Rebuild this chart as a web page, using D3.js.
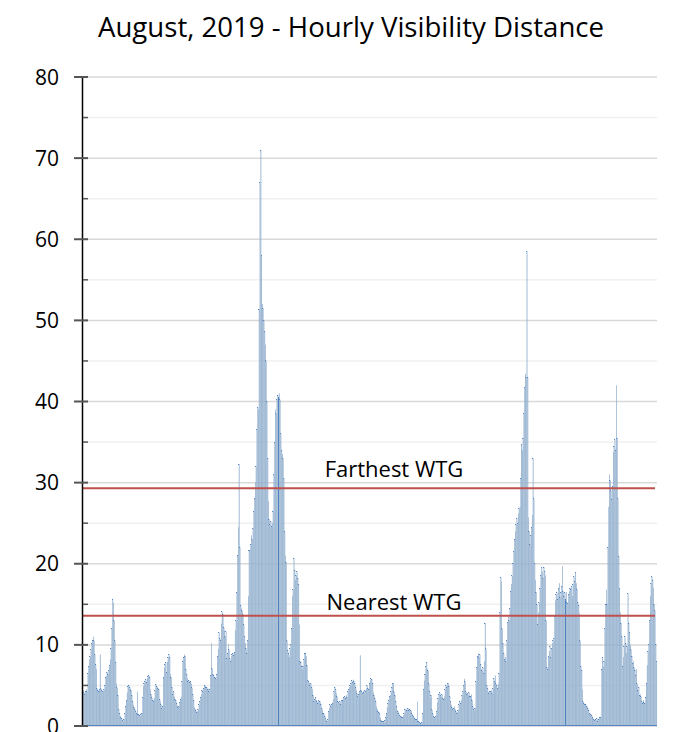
<!DOCTYPE html>
<html>
<head>
<meta charset="utf-8">
<script src="https://cdn.jsdelivr.net/npm/d3@7"></script>
<style>
    body { margin: 0; background: #fff; }
    svg { display: block; font-family: "Open Sans", "Noto Sans", sans-serif; }
</style>
</head>
<body>
<svg id="chart" width="676" height="732"></svg>
<script>
// hourly visibility (km), 1 Aug 2019 00:00 .. 31 Aug 2019 23:00, one row per day
const visibility = [
    4.4,4.1,3.9,4.3,4.5,4.2,6.5,7.3,8.2,8.6,9.4,10.2,10.6,11.0,10.5,8.8,7.6,7.0,4.6,4.4,4.3,4.5,8.8,4.6,
    4.4,4.2,4.3,4.5,5.0,6.0,6.2,6.6,6.4,6.9,7.5,8.2,9.6,12.0,15.6,15.2,13.0,10.5,7.8,5.2,4.7,3.8,2.0,1.6,
    1.2,1.0,0.9,0.7,0.6,0.8,1.5,2.4,3.2,4.1,4.9,5.0,4.8,4.6,4.4,3.8,3.0,2.6,2.3,2.0,1.8,1.5,4.2,1.4,
    1.4,1.3,1.2,1.4,1.6,3.5,4.9,5.3,5.5,5.7,5.4,5.9,6.1,6.2,6.0,4.5,3.9,3.5,3.2,3.0,3.4,4.4,5.1,4.9,
    4.8,4.6,4.5,3.3,3.0,2.6,2.2,2.4,6.0,7.2,7.6,7.8,6.6,7.9,8.4,8.8,8.5,6.4,6.0,4.8,3.9,4.2,3.6,3.3,
    3.2,2.8,2.5,2.3,2.4,2.9,3.3,3.6,5.5,8.0,8.4,8.8,8.6,7.0,6.4,5.9,5.5,5.6,5.4,5.5,5.2,4.7,3.9,3.2,
    2.3,2.1,1.9,1.7,1.8,2.0,2.6,3.0,3.5,3.9,4.4,4.3,4.6,4.9,5.0,4.7,4.8,4.5,4.6,4.3,4.5,6.2,10.2,7.1,
    6.4,6.2,5.9,6.0,5.8,6.3,8.6,9.5,11.5,10.8,10.6,12.6,14.1,13.8,12.2,11.8,11.0,11.6,8.3,9.0,10.1,9.4,8.3,8.0,
    8.6,8.8,9.0,8.7,9.1,11.8,13.0,16.5,21.0,24.5,32.3,22.0,14.8,14.5,14.2,13.7,12.5,11.0,10.2,9.6,9.0,10.5,16.0,21.6,
    21.6,22.4,23.5,23.0,24.4,26.5,28.0,30.0,32.0,36.5,39.3,39.0,51.4,67.0,71.0,58.0,52.0,51.5,50.0,48.6,47.0,45.0,40.0,33.0,
    27.7,25.5,24.8,25.2,24.6,25.0,26.5,31.0,35.0,39.0,38.5,40.2,40.8,40.5,41.0,40.2,36.0,34.0,33.5,33.0,30.5,24.0,21.0,20.2,
    10.5,9.3,8.9,8.5,9.5,10.0,12.0,16.0,16.8,20.7,19.2,18.0,18.6,19.0,18.2,17.5,12.5,8.0,7.8,7.3,7.0,7.4,8.2,8.9,
    8.9,8.6,7.5,5.6,5.5,5.3,5.0,5.2,4.8,4.5,3.8,3.0,3.3,3.5,3.2,3.0,2.8,3.1,2.9,3.0,2.7,2.2,2.0,1.6,
    1.5,1.2,0.9,0.7,0.6,0.8,1.8,2.2,2.6,2.4,2.7,2.8,3.3,4.2,4.8,4.5,4.0,3.6,3.0,2.9,2.8,3.0,2.7,3.1,
    3.2,3.4,3.5,3.6,3.4,3.8,3.5,4.2,4.5,4.8,5.0,5.2,5.6,5.4,5.7,5.5,5.3,4.8,4.4,4.0,3.6,3.9,4.2,8.7,
    4.4,4.2,4.0,4.3,4.1,4.4,4.2,4.6,5.0,4.6,4.5,5.2,5.6,5.8,5.7,5.3,4.1,3.8,3.4,3.0,2.4,2.1,1.8,1.7,
    1.5,1.0,0.7,0.6,0.5,0.6,0.5,0.7,1.0,1.6,2.3,2.8,3.2,3.6,3.8,4.2,4.8,5.2,5.3,4.2,3.8,3.0,2.4,1.9,
    1.8,1.5,1.3,1.1,1.2,1.0,1.1,1.3,1.6,2.0,2.1,1.9,2.0,2.2,1.9,2.0,1.8,1.9,1.5,1.3,1.2,1.0,0.9,0.8,
    0.8,3.0,0.6,0.5,0.4,0.3,0.3,0.4,1.5,4.5,5.6,6.4,7.3,7.8,7.0,6.8,5.2,4.2,3.5,3.8,2.0,1.5,1.2,1.0,
    1.0,1.2,1.8,2.9,3.4,3.9,4.1,3.8,3.6,3.9,3.4,3.3,3.6,4.5,5.0,4.8,5.1,5.3,4.9,3.6,3.0,2.6,2.3,2.0,
    2.2,2.4,2.1,1.8,1.6,1.7,1.9,2.6,3.0,2.8,3.2,3.8,4.2,5.0,5.8,5.5,4.2,3.9,4.0,3.8,4.1,3.7,3.6,3.9,
    3.2,2.4,2.0,1.9,2.2,5.5,7.2,8.6,9.0,8.4,8.8,7.6,7.0,6.8,7.2,6.5,8.0,12.7,9.5,5.0,4.6,4.2,4.0,4.3,
    4.2,4.4,4.0,4.6,5.8,5.5,6.2,5.2,5.0,4.6,5.2,6.5,14.0,18.3,17.8,12.0,10.2,9.0,8.2,8.5,8.0,10.5,12.8,13.5,
    13.0,14.5,16.6,17.5,18.5,20.0,21.5,23.0,24.0,24.8,25.6,25.0,26.2,26.8,27.0,30.5,34.7,34.0,35.5,38.5,41.7,43.4,43.0,58.5,
    43.0,25.7,24.0,22.4,23.5,24.5,26.0,33.0,28.0,20.0,18.0,16.5,15.0,12.5,14.0,15.2,17.0,18.5,19.5,19.0,18.2,19.6,19.0,18.5,
    13.0,7.2,7.0,8.6,9.2,9.8,8.5,9.6,10.2,10.5,10.8,13.5,15.5,16.2,16.4,15.6,17.0,17.6,15.8,16.5,17.2,19.7,16.6,16.0,
    16.4,15.6,16.5,15.2,15.1,16.2,16.6,17.0,16.8,17.2,16.0,17.5,18.4,17.8,18.9,17.6,16.8,15.2,14.8,13.9,10.5,7.3,6.9,4.5,
    3.0,2.8,2.7,2.6,2.5,2.4,2.2,1.9,1.6,1.5,1.4,1.3,1.1,0.9,0.8,0.7,0.8,0.7,0.9,0.6,0.8,1.0,1.1,1.0,
    7.0,8.5,7.3,8.0,12.0,15.0,16.8,15.0,22.0,27.0,31.0,30.3,29.0,27.9,29.5,33.8,34.5,35.3,34.0,42.0,35.5,28.0,20.9,17.0,
    14.0,12.7,11.0,7.3,8.5,9.8,11.0,10.2,9.0,9.8,16.3,12.7,11.5,10.0,9.4,8.6,7.7,8.0,7.2,6.9,6.2,7.0,5.2,4.4,
    4.8,3.8,3.9,3.6,3.0,2.8,3.2,2.9,2.8,3.5,5.3,7.5,9.2,10.0,13.0,16.0,17.6,18.4,18.0,17.0,15.0,14.2,10.0,8.0
];

const majorTicks = [0, 10, 20, 30, 40, 50, 60, 70, 80];
const minorTicks = [5, 15, 25, 35, 45, 55, 65, 75];
const thresholds = [29.3, 13.6];
const thresholdLabels = ["Farthest WTG", "Nearest WTG"];
const title = "August, 2019 - Hourly Visibility Distance";

const svg = d3.select("#chart");
const plot = { left: 83, right: 657, top: 77, bottom: 726 };
const labelGap = [11, 6];

const x = d3.scaleBand()
    .domain(d3.range(visibility.length))
    .range([plot.left, plot.right])
    .padding(0);

const y = d3.scaleLinear()
    .domain([0, 80])
    .range([plot.bottom, plot.top]);

// gridlines
svg.append("g")
    .selectAll("line")
    .data(minorTicks)
    .enter()
    .append("line")
    .attr("x1", plot.left).attr("x2", plot.right)
    .attr("y1", d => y(d)).attr("y2", d => y(d))
    .attr("stroke", "#f0f0f0")
    .attr("stroke-width", 1.5);

svg.append("g")
    .selectAll("line")
    .data(majorTicks)
    .enter()
    .append("line")
    .attr("x1", plot.left).attr("x2", plot.right)
    .attr("y1", d => y(d)).attr("y2", d => y(d))
    .attr("stroke", "#d9d9d9")
    .attr("stroke-width", 1.5);

// bars
svg.append("g")
    .selectAll("rect")
    .data(visibility)
    .enter()
    .append("rect")
    .attr("x", (d, i) => x(i))
    .attr("y", d => y(d))
    .attr("width", x.bandwidth())
    .attr("height", d => y(0) - y(d))
    .attr("fill", "#a3bbd2")
    .attr("stroke", "#4f80c0")
    .attr("stroke-width", 0.08);

// threshold lines
const thr = svg.append("g");
thr.selectAll("line")
    .data(thresholds)
    .enter()
    .append("line")
    .attr("x1", plot.left).attr("x2", plot.right - 2)
    .attr("y1", d => y(d)).attr("y2", d => y(d))
    .attr("stroke", "#c0504d")
    .attr("stroke-width", 2);

thr.selectAll("text")
    .data(thresholds)
    .enter()
    .append("text")
    .attr("x", 394)
    .attr("y", (d, i) => y(d) - labelGap[i])
    .attr("text-anchor", "middle")
    .style("font-size", "22px")
    .style("fill", "#000")
    .text((d, i) => thresholdLabels[i]);

// y axis
const axis = svg.append("g");
axis.append("line")
    .attr("x1", plot.left - 0.5).attr("x2", plot.left - 0.5)
    .attr("y1", plot.top).attr("y2", plot.bottom)
    .attr("stroke", "#000")
    .attr("stroke-width", 1.5);

axis.selectAll(".major")
    .data(majorTicks)
    .enter()
    .append("line")
    .attr("x1", plot.left - 9).attr("x2", plot.left + 5)
    .attr("y1", d => y(d)).attr("y2", d => y(d))
    .attr("stroke", "#555")
    .attr("stroke-width", 2);

axis.selectAll(".minor")
    .data(minorTicks)
    .enter()
    .append("line")
    .attr("x1", plot.left).attr("x2", plot.left + 5)
    .attr("y1", d => y(d)).attr("y2", d => y(d))
    .attr("stroke", "#555")
    .attr("stroke-width", 1.5);

axis.selectAll("text")
    .data(majorTicks)
    .enter()
    .append("text")
    .attr("x", 59)
    .attr("y", d => y(d))
    .attr("dy", "0.36em")
    .attr("text-anchor", "end")
    .style("font-size", "21px")
    .style("fill", "#000")
    .text(d => d);

svg.append("text")
    .attr("x", 351)
    .attr("y", 37)
    .attr("text-anchor", "middle")
    .style("font-size", "27.6px")
    .style("fill", "#000")
    .text(title);
</script>
</body>
</html>
